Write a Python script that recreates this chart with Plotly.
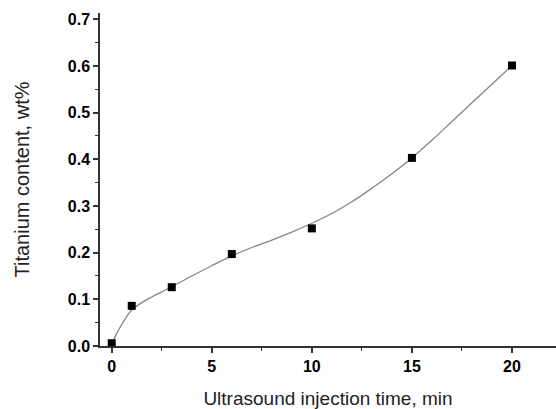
import plotly.graph_objects as go

# measured points
time_min = [0, 1, 3, 6, 10, 15, 20]
ti_content = [0.006, 0.086, 0.126, 0.197, 0.252, 0.403, 0.601]

# fitted curve
fit_x = [0, 0.1, 0.25, 0.5, 0.75, 1, 1.5, 2, 2.5, 3, 4, 5, 6, 7, 8, 9, 10,
         11, 12, 13, 14, 15, 16, 17, 18, 19, 20]
fit_y = [0.0, 0.013, 0.027, 0.046, 0.063, 0.077, 0.093, 0.105, 0.116, 0.127,
         0.150, 0.172, 0.193, 0.211, 0.227, 0.244, 0.263, 0.284, 0.309,
         0.338, 0.369, 0.403, 0.441, 0.481, 0.521, 0.561, 0.601]

x_ticks = [0, 5, 10, 15, 20]
y_ticks = [0.0, 0.1, 0.2, 0.3, 0.4, 0.5, 0.6, 0.7]

fig = go.Figure()
fig.add_trace(go.Scatter(x=fit_x, y=fit_y, mode="lines",
                         line=dict(color="#858585", width=1.3, shape="spline", smoothing=1.0),
                         hoverinfo="skip", cliponaxis=False))
fig.add_trace(go.Scatter(x=time_min, y=ti_content, mode="markers",
                         marker=dict(symbol="square", size=8, color="black"), cliponaxis=False))

tickfont = dict(family="Liberation Sans, Arial", size=16, color="black", weight="bold")
fig.update_layout(
    width=556, height=409,
    margin=dict(l=100, r=0, t=13, b=63),
    paper_bgcolor="white", plot_bgcolor="white",
    showlegend=False,
    xaxis=dict(range=[-0.585, 22.2], tickvals=x_ticks, ticktext=[str(v) for v in x_ticks],
               showgrid=False, zeroline=False, showline=True, linecolor="#333", linewidth=1.5,
               ticks="outside", ticklen=5, tickwidth=1.5, tickcolor="#333", tickfont=tickfont,
               minor=dict(dtick=2.5, tick0=0, ticks="outside", ticklen=3, tickwidth=1.2, tickcolor="#333"),
               title=dict(text="Ultrasound injection time, min", standoff=22,
                          font=dict(family="Liberation Sans, Arial", size=19, color="#222"))),
    yaxis=dict(range=[0, 0.7135], tickvals=y_ticks, ticktext=[f"{v:.1f}" for v in y_ticks],
               showgrid=False, zeroline=False, showline=True, linecolor="#333", linewidth=1.5,
               ticks="outside", ticklen=5, tickwidth=1.5, tickcolor="#333", tickfont=tickfont,
               minor=dict(dtick=0.05, tick0=0, ticks="outside", ticklen=3, tickwidth=1.2, tickcolor="#333"),
               title=dict(text="Titanium content, wt%", standoff=33,
                          font=dict(family="Liberation Sans, Arial", size=20, color="#222"))),
)
fig.write_html("out.html", config={"displayModeBar": False},
               post_script="document.body.style.margin='0';document.body.style.overflow='hidden';")
